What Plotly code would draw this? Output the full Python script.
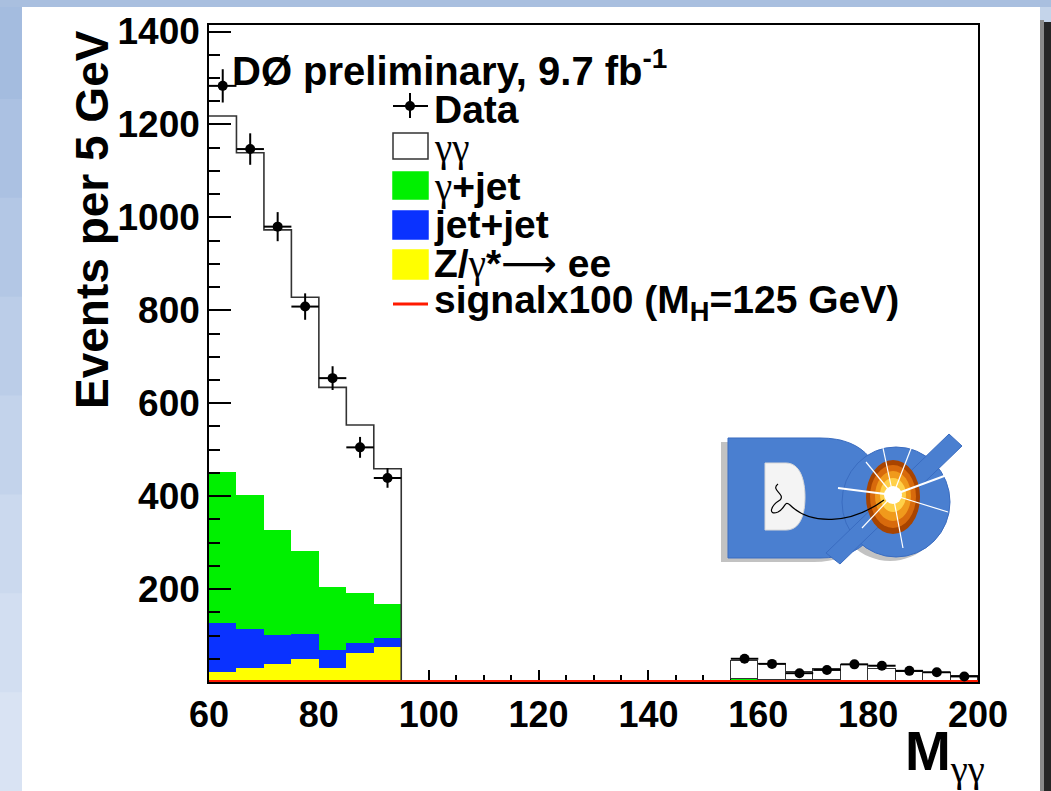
import numpy as np
import plotly.graph_objects as go

# ---------------------------------------------------------------------------
# Diphoton invariant mass, 5 GeV bins (95-155 GeV window blinded)
# ---------------------------------------------------------------------------
BIN_W = 5.0
low_centers = [62.5, 67.5, 72.5, 77.5, 82.5, 87.5, 92.5]
high_centers = [157.5, 162.5, 167.5, 172.5, 177.5, 182.5, 187.5, 192.5, 197.5]

data_low = [1283, 1147, 980, 808, 654, 505, 439]
data_high = [50, 39, 19, 26, 38, 35, 24, 21, 12]

# background components (stacked bottom -> top: Z/γ*->ee, jet+jet, γ+jet, γγ)
zee_low = [22, 30, 38, 50, 30, 62, 75]
jetjet_low = [105, 84, 63, 54, 38, 23, 20]
gjet_low = [325, 289, 227, 178, 136, 106, 73]
gg_low = [766, 736, 645, 546, 430, 362, 291]

zee_high = [1.5, 1.5, 1, 1, 0.5, 0.5, 0.5, 0, 0]
jetjet_high = [1, 1, 0.5, 0.5, 0.5, 0.5, 0.5, 0.5, 0.5]
gjet_high = [3, 2, 2, 2, 2, 2, 1, 1, 1]
gg_high = [39.5, 33.5, 18.5, 23.5, 34, 25, 20, 17.5, 11.5]

# signal (x100) for M_H = 125 GeV, shown outside the blinded window
signal_mass = [60, 200]
signal_x100 = [0, 0]

x_ticks = [60, 80, 100, 120, 140, 160, 180, 200]
y_ticks = [200, 400, 600, 800, 1000, 1200, 1400]

X_RANGE = [60, 200]
Y_RANGE = [0, 1414]

C_GREEN = "#00f000"
C_BLUE = "#0a32ff"
C_YELLOW = "#ffff00"
C_RED = "#ff1a00"
C_LOGO = "#4a7fd0"
C_LOGO_EDGE = "#3a6cc0"
FONT = "Liberation Sans"

# page geometry (pixels) of the plotting frame
W, H = 1051, 791
FL, FR, FT, FB = 209, 978, 25, 682


def X(px):
    return (px - FL) / (FR - FL)


def Y(py):
    return (FB - py) / (FB - FT)


def path(points, close=True):
    s = "M " + " L ".join(f"{X(a):.5f},{Y(b):.5f}" for a, b in points)
    return s + (" Z" if close else "")


def curve(cmds):
    out = []
    for cmd, pts in cmds:
        out.append(cmd + " " + " ".join(f"{X(a):.5f},{Y(b):.5f}" for a, b in pts))
    return " ".join(out)


def rect(x0, x1, y0, y1, fill, layer="below"):
    return dict(type="rect", xref="paper", yref="paper", layer=layer,
                x0=X(x0), x1=X(x1), y0=Y(y1), y1=Y(y0), fillcolor=fill, line=dict(width=0))


def ellipse(x0, x1, y0, y1, fill, edge=None, width=0, layer="above"):
    return dict(type="circle", xref="paper", yref="paper", layer=layer,
                x0=X(x0), x1=X(x1), y0=Y(y1), y1=Y(y0), fillcolor=fill,
                line=dict(color=edge or fill, width=width))


fig = go.Figure()

# stacked backgrounds
for cx, zee, jj, gj, gg, outline in [
    (low_centers, zee_low, jetjet_low, gjet_low, gg_low, 0),
    (high_centers, zee_high, jetjet_high, gjet_high, gg_high, 1.5),
]:
    fig.add_trace(go.Bar(x=cx, y=zee, width=BIN_W, marker=dict(color=C_YELLOW, line=dict(width=0)), name="Z/γ*→ee"))
    fig.add_trace(go.Bar(x=cx, y=jj, width=BIN_W, marker=dict(color=C_BLUE, line=dict(width=0)), name="jet+jet"))
    fig.add_trace(go.Bar(x=cx, y=gj, width=BIN_W, marker=dict(color=C_GREEN, line=dict(width=0)), name="γ+jet"))
    fig.add_trace(go.Bar(x=cx, y=gg, width=BIN_W,
                         marker=dict(color="white", line=dict(width=outline, color="#333333")), name="γγ"))

# outline of the total background in the low-mass sideband
tot_low = [a + b + c + d for a, b, c, d in zip(zee_low, jetjet_low, gjet_low, gg_low)]
edges_low = [c - BIN_W / 2 for c in low_centers] + [low_centers[-1] + BIN_W / 2] * 2
fig.add_trace(go.Scatter(x=edges_low, y=tot_low + [tot_low[-1], 0], mode="lines",
                         line=dict(shape="hv", color="#333333", width=1.6), hoverinfo="skip"))

# signal x100
fig.add_trace(go.Scatter(x=signal_mass, y=signal_x100, mode="lines",
                         line=dict(color=C_RED, width=4), cliponaxis=False))

# data points with Poisson errors
data_x = low_centers + high_centers
data_y = data_low + data_high
fig.add_trace(go.Scatter(
    x=data_x, y=data_y, mode="markers",
    marker=dict(color="black", size=10),
    error_y=dict(type="data", array=list(np.sqrt(data_y)), thickness=2, width=0, color="black"),
    error_x=dict(type="constant", value=BIN_W / 2, thickness=2, width=0, color="black"),
    cliponaxis=False,
))

shapes = []
# slide background: blue gradient down the left edge, top band, white panel, dark right shadow
left_band = ["#a4bcdf", "#abc1e2", "#b3c7e5", "#bbcde8", "#c3d3eb", "#cbd9ee", "#d2def1", "#d9e3f3"]
step = H / len(left_band)
for i, col in enumerate(left_band):
    shapes.append(rect(0, 22, i * step, (i + 1) * step + 1, col))
shapes.append(rect(0, W, 0, 7, "#a9bfdf"))
shapes.append(rect(22, 1040, 7, H, "white"))
shapes.append(rect(1040, 1044, 20, H, "#8a8a8a"))
shapes.append(rect(1044, W, 22, H, "#262626"))

# legend symbols
LX0, LX1 = 393, 428
shapes.append(dict(type="line", xref="paper", yref="paper", x0=X(LX0), x1=X(LX1), y0=Y(106), y1=Y(106),
                   line=dict(color="black", width=2)))
shapes.append(dict(type="line", xref="paper", yref="paper", x0=X(410), x1=X(410), y0=Y(93), y1=Y(118),
                   line=dict(color="black", width=2)))
shapes.append(ellipse(405, 415, 101, 111, "black"))
for top, bot, col, edge in [(133, 159, "white", "#333333"), (172, 199, C_GREEN, C_GREEN),
                            (211, 239, C_BLUE, C_BLUE), (250, 279, C_YELLOW, C_YELLOW)]:
    shapes.append(dict(type="rect", xref="paper", yref="paper", x0=X(LX0), x1=X(LX1), y0=Y(bot), y1=Y(top),
                       fillcolor=col, line=dict(color=edge, width=1.5)))
shapes.append(dict(type="line", xref="paper", yref="paper", x0=X(LX0), x1=X(LX1), y0=Y(304), y1=Y(304),
                   line=dict(color=C_RED, width=3)))

# DØ logo
lg = dict(xref="paper", yref="paper", layer="above")
# drop shadow
shapes.append(dict(type="path", path=curve([("M", [(721, 442)]), ("L", [(814, 442)]),
                                            ("C", [(862, 442), (876, 470), (876, 500)]),
                                            ("C", [(876, 532), (860, 562), (814, 562)]),
                                            ("L", [(721, 562)]), ("Z", [])]),
                   fillcolor="#c2c2c2", line=dict(width=0), **lg))
shapes.append(ellipse(836, 944, 451, 561, "#c2c2c2"))
# letter D
shapes.append(dict(type="path", path=curve([("M", [(728, 438)]), ("L", [(820, 438)]),
                                            ("C", [(868, 438), (882, 468), (882, 498)]),
                                            ("C", [(882, 530), (866, 558), (820, 558)]),
                                            ("L", [(728, 558)]), ("Z", [])]),
                   fillcolor=C_LOGO, line=dict(color=C_LOGO_EDGE, width=1), **lg))
shapes.append(dict(type="path", path=curve([("M", [(765, 463)]), ("L", [(786, 463)]),
                                            ("C", [(800, 463), (805, 480), (805, 497)]),
                                            ("C", [(805, 515), (800, 530), (786, 530)]),
                                            ("L", [(765, 530)]), ("Z", [])]),
                   fillcolor="#f4f4f4", line=dict(color="#d8d8d8", width=1), **lg))
# letter Ø: ring, slash, glowing centre
shapes.append(ellipse(842, 950, 447, 557, C_LOGO, C_LOGO_EDGE, 1))
shapes.append(dict(type="path", path=path([(826, 553), (840, 564), (962, 446), (949, 434)]),
                   fillcolor=C_LOGO, line=dict(color=C_LOGO_EDGE, width=1), **lg))
shapes.append(ellipse(866, 920, 460, 534, "#a84400"))
shapes.append(ellipse(870, 916, 465, 528, "#d86a0c"))
shapes.append(ellipse(875, 911, 471, 521, "#f09a1c"))
shapes.append(ellipse(880, 906, 478, 512, "#ffd048"))
# spark
cx0, cy0 = 893, 495
rays = [(838, 488, 2), (955, 472, 2), (948, 512, 1.2), (903, 548, 1.2),
        (883, 448, 1.2), (912, 446, 1.2), (862, 528, 1.2), (866, 462, 1.2)]
for ex, ey, w in rays:
    shapes.append(dict(type="line", x0=X(cx0), y0=Y(cy0), x1=X(ex), y1=Y(ey),
                       line=dict(color="white", width=w), **lg))
shapes.append(ellipse(cx0 - 9, cx0 + 9, cy0 - 9, cy0 + 9, "white"))
# particle track
shapes.append(dict(type="path", path=curve([("M", [(778, 484)]),
                                            ("C", [(770, 490), (786, 494), (780, 500)]),
                                            ("C", [(770, 506), (768, 516), (778, 512)]),
                                            ("C", [(786, 508), (784, 500), (790, 505)]),
                                            ("C", [(810, 525), (850, 525), (884, 500)])]),
                   line=dict(color="black", width=1.2), **lg))

ann = []
greek = "<span style='font-family:Liberation Serif;font-weight:normal'>γ</span>"
ann.append(dict(text="DØ preliminary, 9.7 fb<sup>-1</sup>", x=X(230), y=Y(68), xanchor="left",
                yanchor="middle", font=dict(size=40)))
legend_rows = [
    ("Data", 109),
    (greek + greek, 148),
    (greek + "+jet", 187),
    ("jet+jet", 224),
    ("Z/" + greek + "*<span style='font-family:DejaVu Sans;font-weight:normal'>⟶</span> ee", 263),
    ("signalx100 (M<sub>H</sub>=125 GeV)", 302),
]
for txt, yc in legend_rows:
    ann.append(dict(text=txt, x=X(432), y=Y(yc), xanchor="left", yanchor="middle", font=dict(size=39)))
ann.append(dict(text="Events per 5 GeV", textangle=-90, x=X(92), y=Y(220), xanchor="center",
                yanchor="middle", font=dict(size=46)))
ann.append(dict(text="M<sub><span style='font-family:Liberation Serif;font-weight:normal'>γγ</span></sub>",
                x=X(903), y=Y(755), xanchor="left", yanchor="middle", font=dict(size=55)))
for a in ann:
    a.update(xref="paper", yref="paper", showarrow=False)
    a["font"].update(family=FONT, color="black", weight="bold")

axis_common = dict(showgrid=False, zeroline=False, showline=True, linecolor="black", linewidth=1.5,
                   mirror=True, ticks="inside", tickcolor="black", tickwidth=1.5)

fig.update_layout(
    width=W, height=H, autosize=False,
    margin=dict(l=FL, r=W - FR, t=FT, b=H - FB, pad=0),
    paper_bgcolor="#c4d4ea", plot_bgcolor="white",
    barmode="stack", bargap=0, showlegend=False,
    xaxis=dict(range=X_RANGE, tickvals=x_ticks, ticklen=12, layer="below traces",
               tickfont=dict(family=FONT, size=36, color="black", weight="bold"),
               minor=dict(tickmode="linear", tick0=60, dtick=5, ticklen=7, ticks="inside",
                          tickcolor="black", tickwidth=1.5),
               **axis_common),
    yaxis=dict(range=Y_RANGE, tickvals=y_ticks, ticklen=22,
               tickfont=dict(family=FONT, size=37, color="black", weight="bold"),
               minor=dict(tickmode="linear", tick0=0, dtick=50, ticklen=11, ticks="inside",
                          tickcolor="black", tickwidth=1.5),
               **axis_common),
    shapes=shapes,
    annotations=ann,
)

fig.write_html("out.html")
